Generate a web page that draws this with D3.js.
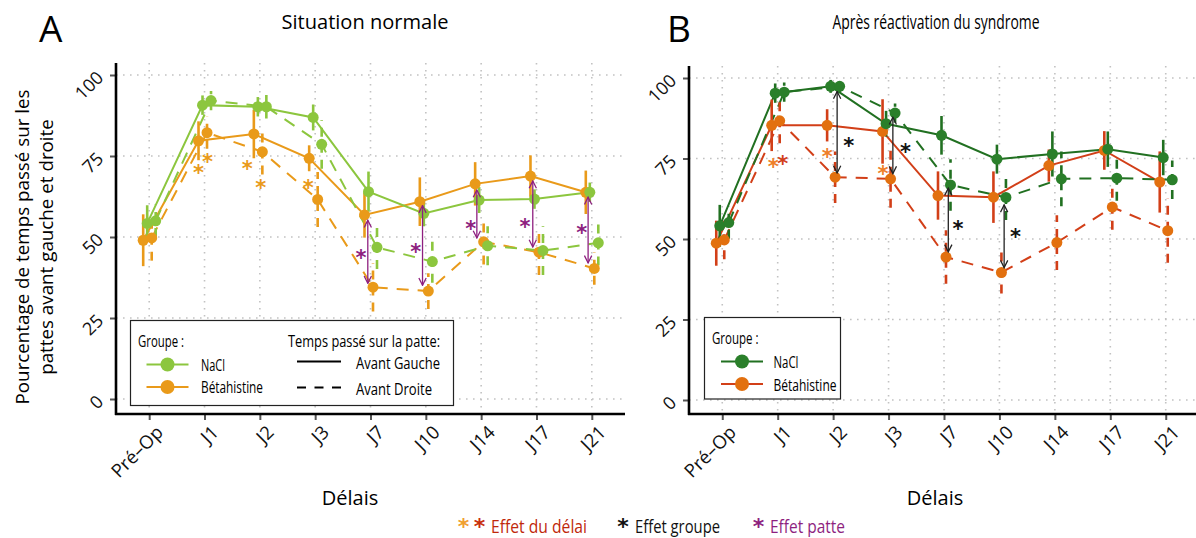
<!DOCTYPE html>
<html>
<head>
<meta charset="utf-8">
<script src="https://d3js.org/d3.v7.min.js"></script>
<style>
  body { margin: 0; background: #fff; }
  text { font-family: "Open Sans", sans-serif; }
</style>
</head>
<body>
<script>
// categories and ticks
var categories = ["Pré–Op", "J1", "J2", "J3", "J7", "J10", "J14", "J17", "J21"];
var yTicks = [0, 25, 50, 75, 100];

// Panel A - situation normale (means and error half-widths, %)
var naclGaucheA    = [54.2, 90.7, 90.2, 86.9, 64.0, 57.3, 61.4, 61.7, 63.8];
var naclGaucheErrA = [5.6, 3, 3, 4, 6.2, 4, 4, 3, 3];
var naclDroiteA    = [55.0, 92.1, 90.2, 78.6, 46.8, 42.4, 47.3, 45.8, 48.2];
var naclDroiteErrA = [5, 3, 3.6, 7.5, 6.7, 6.5, 6, 7.5, 7];
var betaGaucheA    = [49.0, 79.7, 81.8, 74.3, 56.8, 60.9, 66.4, 68.8, 63.8];
var betaGaucheErrA = [8, 6, 7.5, 4, 7, 7.5, 6.7, 6.4, 6.7];
var betaDroiteA    = [49.7, 82.2, 76.3, 61.6, 34.5, 33.3, 48.5, 45.3, 40.3];
var betaDroiteErrA = [7, 5, 7, 8.5, 7.5, 5.5, 7, 7, 5];

// Panel B - apres reactivation
var naclGaucheB    = [54.1, 95.3, 97.4, 85.8, 82.2, 74.8, 76.4, 77.9, 75.3];
var naclGaucheErrB = [6.5, 3, 2, 4, 6, 4.5, 7, 5.5, 5.5];
var naclDroiteB    = [55.1, 95.6, 97.4, 89.1, 66.8, 62.9, 68.7, 68.9, 68.4];
var naclDroiteErrB = [5, 3, 2, 3, 8, 7, 8.5, 7, 6];
var betaGaucheB    = [48.7, 85.3, 85.3, 83.4, 63.5, 63.0, 72.8, 77.5, 67.7];
var betaGaucheErrB = [7, 8, 5, 10, 7.5, 8, 5, 6, 9.5];
var betaDroiteB    = [49.7, 86.7, 69.2, 68.7, 44.4, 39.6, 48.9, 59.9, 52.6];
var betaDroiteErrB = [6, 7, 8, 9, 8.3, 6.5, 8.5, 7, 10];

// significance marks: category, value, nudge (px)
var delayStarsA = [["J1", 71.2, -6], ["J1", 74.8, 3], ["J2", 72.5, -12.5], ["J2", 66.8, 1], ["J3", 66.8, -7]];
var patteStarsA = [["J7", 45.2, -9.5], ["J10", 47.1, -10], ["J14", 54.2, -10.5], ["J17", 54.7, -11.5], ["J21", 52.7, -10]];
var patteArrowsA = [["J7", 55.2, 35.7], ["J10", 59.7, 35.1], ["J14", 64.5, 49.7], ["J17", 67.3, 46.9], ["J21", 62.3, 42.0]];

var delayStarsB = [["J1", 74.1, -4.5], ["J1", 74.8, 5], ["J2", 77.2, -6], ["J3", 71.7, -5.5]];
var delayStarsBColor = ["#ee7f2a", "#d2401a", "#ee7f2a", "#ee7f2a"];
var groupStarsB = [["J2", 80.5, 15.5], ["J3", 78.5, 17], ["J7", 54.6, 14], ["J10", 52.1, 16]];
var groupArrowsB = [["J2", 95.8, 70.5], ["J3", 87.8, 70.3], ["J7", 65.8, 46.0], ["J10", 60.6, 41.1]];

var w = 1196, h = 538;
var svg = d3.select("body").append("svg").attr("width", w).attr("height", h);

// arrow heads
var defs = svg.append("defs");
function addMarker(id, color) {
    defs.append("marker").attr("id", id + "E")
        .attr("viewBox", "0 0 10 10").attr("refX", 9).attr("refY", 5)
        .attr("markerWidth", 7).attr("markerHeight", 7).attr("orient", "auto")
        .append("path").attr("d", "M1,1 L9,5 L1,9").style("fill", "none")
        .style("stroke", color).style("stroke-width", 1.4);
    defs.append("marker").attr("id", id + "S")
        .attr("viewBox", "0 0 10 10").attr("refX", 1).attr("refY", 5)
        .attr("markerWidth", 7).attr("markerHeight", 7).attr("orient", "auto")
        .append("path").attr("d", "M9,1 L1,5 L9,9").style("fill", "none")
        .style("stroke", color).style("stroke-width", 1.4);
}
addMarker("purple", "#8e1f7f");
addMarker("black", "#222");

var dashPattern = "12,9";

// squeeze a text to a given width (the figure uses a condensed face)
function squeeze(sel, len) {
    return sel.attr("textLength", len).attr("lengthAdjust", "spacingAndGlyphs");
}

function drawPanel(p) {
    var g = svg.append("g");
    var xScale = d3.scalePoint().domain(categories).range([p.left, p.right]).padding(0.6);
    var yScale = d3.scaleLinear().domain([0, 100]).range([p.y0, p.y100]);

    // dotted grid
    g.selectAll("line.vgrid").data(categories).enter().append("line")
        .attr("x1", function(d) { return xScale(d); })
        .attr("x2", function(d) { return xScale(d); })
        .attr("y1", p.top).attr("y2", p.bottom)
        .style("stroke", "#c2c2c2").style("stroke-width", 1.6).style("stroke-dasharray", "1.6,5.4");
    g.selectAll("line.hgrid").data(yTicks).enter().append("line")
        .attr("x1", p.left).attr("x2", p.right)
        .attr("y1", function(d) { return yScale(d); })
        .attr("y2", function(d) { return yScale(d); })
        .style("stroke", "#c2c2c2").style("stroke-width", 1.6).style("stroke-dasharray", "1.6,5.4");

    // x axis
    var gx = g.append("g").attr("transform", "translate(0," + p.bottom + ")")
        .call(d3.axisBottom(xScale).tickSize(6));
    gx.select(".domain").remove();
    gx.selectAll(".tick line").style("stroke", "#555").style("stroke-width", 2);
    gx.selectAll(".tick text")
        .attr("y", 0).attr("dy", "0.35em")
        .attr("text-anchor", "end")
        .attr("transform", "translate(10,15) rotate(-45)")
        .style("font-family", "'Open Sans', sans-serif").style("font-size", "18.5px").style("fill", "#111");

    // y axis
    var gy = g.append("g").attr("transform", "translate(" + p.left + ",0)")
        .call(d3.axisLeft(yScale).tickValues(yTicks).tickSize(6));
    gy.select(".domain").remove();
    gy.selectAll(".tick line").style("stroke", "#555").style("stroke-width", 2);
    gy.selectAll(".tick text")
        .attr("x", 0).attr("dy", "0.35em")
        .attr("text-anchor", "end")
        .attr("transform", "translate(-16,-1) rotate(-45)")
        .style("font-family", "'Open Sans', sans-serif").style("font-size", "18px").style("fill", "#111");

    g.append("line").attr("x1", p.left).attr("x2", p.left).attr("y1", p.top).attr("y2", p.bottom + 1)
        .style("stroke", "#000").style("stroke-width", 2.6);
    g.append("line").attr("x1", p.left - 1).attr("x2", p.right).attr("y1", p.bottom).attr("y2", p.bottom)
        .style("stroke", "#000").style("stroke-width", 2.6);

    // titles
    squeeze(g.append("text").attr("x", p.titleX).attr("y", 29).attr("text-anchor", "middle")
        .style("font-size", "20px").text(p.title), p.titleLen);
    g.append("text").attr("x", p.letterX).attr("y", 42)
        .style("font-size", "37px").text(p.letter);
    g.append("text").attr("x", p.xLabelX).attr("y", 505).attr("text-anchor", "middle")
        .style("font-size", "20px").text("Délais");

    // series
    var line = d3.line()
        .x(function(d, i) { return xScale(categories[i]); })
        .y(function(d) { return yScale(d); });

    p.series.forEach(function(s) {
        g.append("path").datum(s.values)
            .attr("transform", "translate(" + s.dx + ",0)")
            .attr("d", line)
            .style("fill", "none").style("stroke", s.lineColor).style("stroke-width", 2)
            .style("stroke-dasharray", s.dashed ? dashPattern : null);
    });
    p.series.forEach(function(s) {
        g.selectAll(null).data(s.values).enter().append("line")
            .attr("x1", function(d, i) { return xScale(categories[i]) + s.dx; })
            .attr("x2", function(d, i) { return xScale(categories[i]) + s.dx; })
            .attr("y1", function(d, i) { return yScale(d - s.err[i]); })
            .attr("y2", function(d, i) { return yScale(d + s.err[i]); })
            .style("stroke", s.lineColor).style("stroke-width", 2.6)
            .style("stroke-dasharray", s.dashed ? "9,7" : null);
    });
    p.series.forEach(function(s) {
        g.selectAll(null).data(s.values).enter().append("circle")
            .attr("cx", function(d, i) { return xScale(categories[i]) + s.dx; })
            .attr("cy", function(d) { return yScale(d); })
            .attr("r", 5.5)
            .style("fill", s.pointColor);
    });

    // arrows
    g.selectAll(null).data(p.arrows).enter().append("line")
        .attr("x1", function(d) { return xScale(d[0]) + p.arrowDx[d[0]]; })
        .attr("x2", function(d) { return xScale(d[0]) + p.arrowDx[d[0]]; })
        .attr("y1", function(d) { return yScale(d[1]); })
        .attr("y2", function(d) { return yScale(d[2]); })
        .style("stroke", p.arrowColor).style("stroke-width", 1.3)
        .attr("marker-start", "url(#" + p.arrowMarker + "S)")
        .attr("marker-end", "url(#" + p.arrowMarker + "E)");

    // stars
    p.stars.forEach(function(st) {
        g.selectAll(null).data(st.data).enter().append("text")
            .attr("x", function(d) { return xScale(d[0]) + d[2]; })
            .attr("y", function(d) { return yScale(d[1]); })
            .attr("dy", "0.58em")
            .attr("text-anchor", "middle")
            .style("font-family", "'DejaVu Sans', sans-serif")
            .style("font-size", "21px").style("font-weight", "bold")
            .style("fill", function(d, i) { return st.colors ? st.colors[i] : st.color; })
            .text("*");
    });
    return g;
}

var greenA = "#8cc63e", orangeA = "#e99a1a";
var greenB = "#2a7f2a", greenBLine = "#217021", orangeB = "#e2700f", redB = "#d23f18";

drawPanel({
    left: 116, right: 625, top: 63, bottom: 414, y0: 399, y100: 75,
    title: "Situation normale", titleX: 365, titleLen: 167, letter: "A", letterX: 39, xLabelX: 350,
    series: [
        {values: betaGaucheA, err: betaGaucheErrA, dx: -6, dashed: false, lineColor: orangeA, pointColor: orangeA},
        {values: naclGaucheA, err: naclGaucheErrA, dx: -2, dashed: false, lineColor: greenA, pointColor: greenA},
        {values: betaDroiteA, err: betaDroiteErrA, dx: 2.5, dashed: true, lineColor: orangeA, pointColor: orangeA},
        {values: naclDroiteA, err: naclDroiteErrA, dx: 6.5, dashed: true, lineColor: greenA, pointColor: greenA}
    ],
    arrows: patteArrowsA, arrowColor: "#8e1f7f", arrowMarker: "purple",
    arrowDx: {"J7": -2.7, "J10": -3.3, "J14": -4.3, "J17": -3.7, "J21": -3.7},
    stars: [
        {data: delayStarsA, color: orangeA},
        {data: patteStarsA, color: "#8e1f7f"}
    ]
});

drawPanel({
    left: 689, right: 1199, top: 66, bottom: 414, y0: 400, y100: 78,
    title: "Après réactivation du syndrome", titleX: 936, titleLen: 207, letter: "B", letterX: 667, xLabelX: 935,
    series: [
        {values: betaGaucheB, err: betaGaucheErrB, dx: -6, dashed: false, lineColor: redB, pointColor: orangeB},
        {values: naclGaucheB, err: naclGaucheErrB, dx: -2.5, dashed: false, lineColor: greenBLine, pointColor: greenB},
        {values: betaDroiteB, err: betaDroiteErrB, dx: 2, dashed: true, lineColor: redB, pointColor: orangeB},
        {values: naclDroiteB, err: naclDroiteErrB, dx: 6.5, dashed: true, lineColor: greenBLine, pointColor: greenB}
    ],
    arrows: groupArrowsB, arrowColor: "#222", arrowMarker: "black",
    arrowDx: {"J2": 4, "J3": 4.3, "J7": 4.3, "J10": 4.7},
    stars: [
        {data: delayStarsB, colors: delayStarsBColor},
        {data: groupStarsB, color: "#111"}
    ]
});

// y axis title
svg.append("text")
    .attr("transform", "translate(29,247) rotate(-90)")
    .attr("text-anchor", "middle")
    .style("font-size", "18.8px")
    .text("Pourcentage de temps passé sur les");
svg.append("text")
    .attr("transform", "translate(53,247) rotate(-90)")
    .attr("text-anchor", "middle")
    .style("font-size", "18.8px")
    .text("pattes avant gauche et droite");

// legends
function legendKey(g, x, y, color, pointColor) {
    g.append("line").attr("x1", x - 21).attr("x2", x + 21).attr("y1", y).attr("y2", y)
        .style("stroke", color).style("stroke-width", 2);
    g.append("circle").attr("cx", x).attr("cy", y).attr("r", 7).style("fill", pointColor);
}
function legendText(g, x, y, txt, len) {
    squeeze(g.append("text").attr("x", x).attr("y", y).attr("dy", "0.36em")
        .style("font-size", "16.5px").text(txt), len);
}

var legA = svg.append("g");
legA.append("rect").attr("x", 130.5).attr("y", 320.5).attr("width", 323).attr("height", 85)
    .style("fill", "#fff").style("stroke", "#222").style("stroke-width", 1.2);
legendText(legA, 138, 341.5, "Groupe :", 46);
legendKey(legA, 167.5, 364.5, greenA, greenA);
legendKey(legA, 167.5, 387, orangeA, orangeA);
legendText(legA, 201, 365, "NaCl", 24);
legendText(legA, 201, 387.5, "Bétahistine", 62);
legendText(legA, 288, 341.5, "Temps passé sur la patte:", 152);
legA.append("line").attr("x1", 297).attr("x2", 341).attr("y1", 361.5).attr("y2", 361.5)
    .style("stroke", "#000").style("stroke-width", 2.2);
legA.append("line").attr("x1", 297).attr("x2", 341).attr("y1", 387.5).attr("y2", 387.5)
    .style("stroke", "#000").style("stroke-width", 2.2).style("stroke-dasharray", "9,8.5");
legendText(legA, 356, 363.5, "Avant Gauche", 84);
legendText(legA, 356, 389, "Avant Droite", 76);

var legB = svg.append("g");
legB.append("rect").attr("x", 704.5).attr("y", 317.5).attr("width", 136).attr("height", 81.5)
    .style("fill", "#fff").style("stroke", "#222").style("stroke-width", 1.2);
legendText(legB, 712, 338, "Groupe :", 46.5);
legendKey(legB, 742, 361.5, greenBLine, greenB);
legendKey(legB, 742, 384, redB, orangeB);
legendText(legB, 773.5, 362, "NaCl", 25);
legendText(legB, 773.5, 385, "Bétahistine", 63);

// bottom legend
var bottom = svg.append("g");
function star(x, color) {
    bottom.append("text").attr("x", x).attr("y", 534).attr("text-anchor", "middle")
        .style("font-family", "'DejaVu Sans', sans-serif").style("font-size", "22px")
        .style("font-weight", "bold").style("fill", color).text("*");
}
function label(x, color, txt, len) {
    squeeze(bottom.append("text").attr("x", x).attr("y", 533)
        .style("font-size", "19px").style("fill", color).text(txt), len);
}
star(463.5, "#f0a030"); star(479.5, "#c8300e");
label(491, "#c0280a", "Effet du délai", 96);
star(623, "#111");
label(635, "#111", "Effet groupe", 85);
star(758.5, "#8e1f7f");
label(770, "#8e1f7f", "Effet patte", 75);
</script>
</body>
</html>
